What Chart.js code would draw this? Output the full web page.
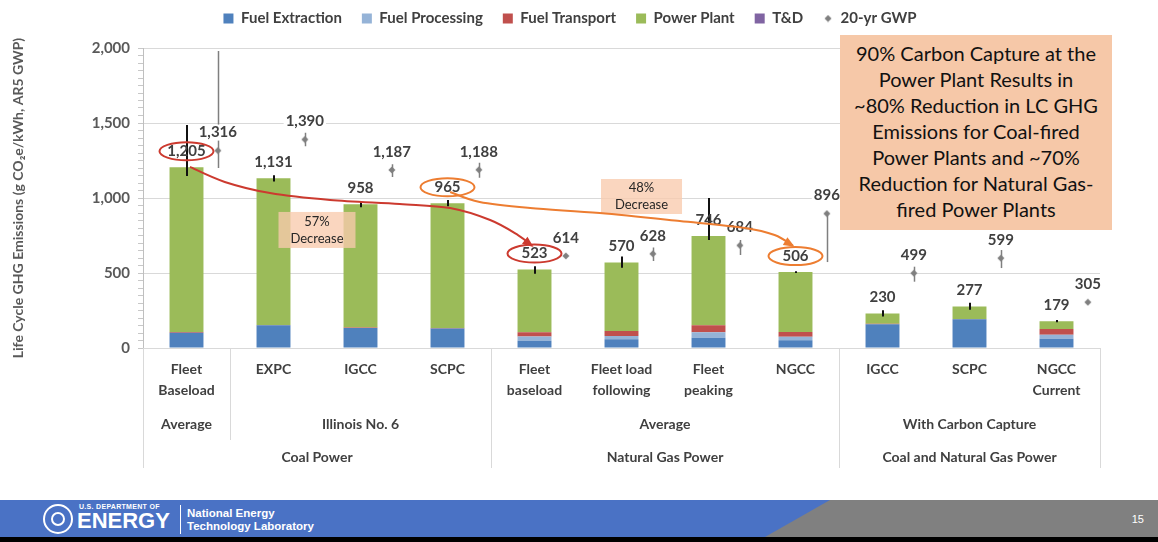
<!DOCTYPE html>
<html>
<head>
<meta charset="utf-8">
<script src="https://cdn.jsdelivr.net/npm/chart.js@4.4.1/dist/chart.umd.min.js"></script>
<style>
  body { margin: 0; width: 1158px; height: 542px; background: #fff; overflow: hidden; position: relative; font-family: Lato, sans-serif; }
  #lcaChart { position: absolute; left: 0; top: 0; }
  .callout { position: absolute; left: 840px; top: 35px; width: 272px; height: 195px; background: #f6c8a8;
             color: #111; font-size: 20px; line-height: 26px; text-align: center; padding-top: 5px; box-sizing: border-box; }
  .footer { position: absolute; left: 0; top: 500px; width: 1158px; height: 37px; background: #4a72c5; }
  .footer .slant { position: absolute; left: 765px; top: 0; width: 393px; height: 37px; background: #808080;
                   clip-path: polygon(65px 0, 100% 0, 100% 100%, 0 100%); }
  .footer .page { position: absolute; right: 14px; top: 13px; color: #fff; font: 11px "Liberation Sans", Arial, sans-serif; }
  .strip { position: absolute; left: 0; top: 537px; width: 1158px; height: 5px; background: #000; }
  .seal { position: absolute; left: 43px; top: 4px; width: 26px; height: 26px; border: 2px solid #fff; border-radius: 50%; }
  .seal::after { content: ""; position: absolute; left: 6px; top: 6px; width: 10px; height: 10px; border: 2px solid #fff; border-radius: 50%; }
  .dept { position: absolute; left: 79px; top: 3px; color: #fff; font: bold 7px "Liberation Sans", Arial, sans-serif; letter-spacing: 0.3px; }
  .energy { position: absolute; left: 77px; top: 9px; color: #fff; font: bold 22px/24px "Liberation Sans", Arial, sans-serif; }
  .sep { position: absolute; left: 180px; top: 5px; width: 1px; height: 29px; background: #fff; }
  .lab { position: absolute; left: 187px; top: 7px; color: #fff; font: bold 11.5px/13px "Liberation Sans", Arial, sans-serif; }
</style>
</head>
<body>
<canvas id="lcaChart" width="1158" height="480"></canvas>

<div class="callout">90% Carbon Capture at the<br>Power Plant Results in<br>~80% Reduction in LC GHG<br>Emissions for Coal-fired<br>Power Plants and ~70%<br>Reduction for Natural Gas-<br>fired Power Plants</div>

<div class="footer">
  <div class="seal"></div>
  <div class="dept">U.S. DEPARTMENT OF</div>
  <div class="energy">ENERGY</div>
  <div class="sep"></div>
  <div class="lab">National Energy<br>Technology Laboratory</div>
  <div class="slant"></div>
  <div class="page">15</div>
</div>
<div class="strip"></div>

<script>
const FONT = 'Lato, sans-serif';
Chart.defaults.font.family = FONT;

const categories = [
  ['Fleet', 'Baseload'], 'EXPC', 'IGCC', 'SCPC',
  ['Fleet', 'baseload'], ['Fleet load', 'following'], ['Fleet', 'peaking'], 'NGCC',
  'IGCC', 'SCPC', ['NGCC', 'Current']
];

// life cycle stages, g CO2e/kWh
const fuelExtraction = [102, 151, 133, 130, 49, 58, 69, 51, 158, 191, 62];
const fuelProcessing = [0, 0, 0, 0, 27, 22, 36, 24, 0, 0, 27];
const fuelTransport  = [5, 3, 3, 3, 29, 33, 47, 31, 3, 3, 38];
const powerPlant     = [1098, 977, 822, 832, 418, 457, 594, 400, 69, 83, 52];
const tAndD          = [0, 0, 0, 0, 0, 0, 0, 0, 0, 0, 0];

// uncertainty range on the 100-yr totals
const totalLow  = [1147, 1110, 938, 945, 495, 535, 720, 500, 210, 255, 172];
const totalHigh = [1487, 1152, 980, 987, 545, 610, 1000, 512, 252, 302, 186];

// 20-yr GWP totals and their ranges
const gwp20     = [1316, 1390, 1187, 1188, 614, 628, 684, 896, 499, 599, 305];
const gwp20Low  = [1200, 1345, 1140, 1135, 614, 580, 620, 573, 442, 533, 305];
const gwp20High = [1980, 1435, 1225, 1235, 614, 670, 720, 896, 542, 653, 305];

// second and third rows of the category axis: [label, first index, last index]
const subGroups = [['Average', 0, 0], ['Illinois No. 6', 1, 3], ['Average', 4, 7], ['With Carbon Capture', 8, 10]];
const mainGroups = [['Coal Power', 0, 3], ['Natural Gas Power', 4, 7], ['Coal and Natural Gas Power', 8, 10]];

const yTicks = [0, 500, 1000, 1500, 2000];
const gwpShift = 0.36;

const totals = fuelExtraction.map((v, i) => v + fuelProcessing[i] + fuelTransport[i] + powerPlant[i] + tAndD[i]);
const fmt = v => v.toLocaleString('en-US');

// small grey diamond used for the GWP points and its legend entry
const diamond = document.createElement('canvas');
diamond.width = 8; diamond.height = 8;
const dctx = diamond.getContext('2d');
dctx.fillStyle = '#7f7f7f';
dctx.beginPath();
dctx.moveTo(4, 0.5); dctx.lineTo(7.5, 4); dctx.lineTo(4, 7.5); dctx.lineTo(0.5, 4);
dctx.closePath(); dctx.fill();

function barSet(label, data, color) {
  return { type: 'bar', label, data, backgroundColor: color, xAxisID: 'x', legendStyle: 'rect',
           stack: 'lca', grouped: false, barPercentage: 0.39, categoryPercentage: 1 };
}

// curved arrows and call-outs, positioned in axis units (category index, value)
const redArrow = [[0.04, 1207], [0.44, 1107], [0.96, 1033], [1.65, 987], [2.45, 960], [3.03, 933], [3.49, 853], [3.81, 753], [3.97, 682]];
const orangeArrow = [[3.03, 1040], [3.37, 973], [3.95, 933], [4.75, 900], [5.67, 847], [6.42, 800], [6.76, 753], [6.97, 682]];
const decreaseBoxes = [
  { at: [1.5, 787], w: 77, h: 36, lines: ['57%', 'Decrease'] },
  { at: [5.23, 1010], w: 81, h: 35, lines: ['48%', 'Decrease'] }
];
const circled = [[0, '#cc3a2f'], [4, '#cc3a2f'], [3, '#ed7d31'], [7, '#ed7d31']];

function curve(c, pts, color) {
  c.save();
  c.strokeStyle = color; c.fillStyle = color; c.lineWidth = 2;
  c.beginPath();
  c.moveTo(pts[0][0], pts[0][1]);
  let lastCp = pts[0];
  for (let i = 0; i < pts.length - 1; i++) {
    const p0 = pts[i - 1] || pts[i], p1 = pts[i], p2 = pts[i + 1], p3 = pts[i + 2] || p2;
    const c1 = [p1[0] + (p2[0] - p0[0]) / 6, p1[1] + (p2[1] - p0[1]) / 6];
    const c2 = [p2[0] - (p3[0] - p1[0]) / 6, p2[1] - (p3[1] - p1[1]) / 6];
    c.bezierCurveTo(c1[0], c1[1], c2[0], c2[1], p2[0], p2[1]);
    lastCp = c2;
  }
  c.stroke();
  const end = pts[pts.length - 1];
  const a = Math.atan2(end[1] - lastCp[1], end[0] - lastCp[0]);
  c.beginPath();
  c.moveTo(end[0] + 2 * Math.cos(a), end[1] + 2 * Math.sin(a));
  c.lineTo(end[0] - 9 * Math.cos(a) + 4.5 * Math.sin(a), end[1] - 9 * Math.sin(a) - 4.5 * Math.cos(a));
  c.lineTo(end[0] - 9 * Math.cos(a) - 4.5 * Math.sin(a), end[1] - 9 * Math.sin(a) + 4.5 * Math.cos(a));
  c.closePath(); c.fill();
  c.restore();
}

const decorations = {
  id: 'decorations',
  afterLayout(chart) {
    // legend row sits a little higher and right of the default slot
    const lg = chart.legend;
    lg.top -= 12; lg.bottom -= 12;
    lg.left += 20; lg.right += 20;
  },
  beforeDatasetsDraw(chart) {
    const c = chart.ctx;
    const gm = chart.getDatasetMeta(5);
    const y = chart.scales.y;
    c.save();
    c.strokeStyle = '#7f7f7f'; c.lineWidth = 1.5;
    gm.data.forEach((pt, i) => {
      if (gwp20High[i] === gwp20Low[i]) return;
      c.beginPath();
      c.moveTo(Math.round(pt.x) + 0.5, y.getPixelForValue(gwp20High[i]));
      c.lineTo(Math.round(pt.x) + 0.5, y.getPixelForValue(gwp20Low[i]));
      c.stroke();
    });
    c.restore();
  },
  afterDatasetsDraw(chart) {
    const c = chart.ctx;
    const x = chart.scales.x, y = chart.scales.y, xg = chart.scales.xg;
    const gm = chart.getDatasetMeta(5);

    // range bars on the stacked totals
    c.save();
    c.strokeStyle = '#111'; c.lineWidth = 2;
    totals.forEach((t, i) => {
      const px = Math.round(x.getPixelForValue(i));
      c.beginPath();
      c.moveTo(px, y.getPixelForValue(totalHigh[i]));
      c.lineTo(px, y.getPixelForValue(totalLow[i]));
      c.stroke();
    });
    c.restore();

    // value labels
    c.save();
    c.font = 'bold 15px ' + FONT;
    c.textAlign = 'center'; c.textBaseline = 'middle';
    totals.forEach((t, i) => {
      c.fillStyle = '#404040';
      c.fillText(fmt(t), x.getPixelForValue(i), y.getPixelForValue(t) - 16);
    });
    gm.data.forEach((pt, i) => {
      const txt = fmt(gwp20[i]);
      const w = c.measureText(txt).width;
      c.fillStyle = '#fff';
      c.fillRect(pt.x - w / 2 - 2, pt.y - 26, w + 4, 16);
      c.fillStyle = '#404040';
      c.fillText(txt, pt.x, pt.y - 18);
    });
    c.restore();

    // shaded decrease boxes
    c.save();
    decreaseBoxes.forEach(b => {
      const cx = xg.getPixelForValue(b.at[0]), cy = y.getPixelForValue(b.at[1]);
      c.fillStyle = 'rgba(248, 203, 173, 0.78)';
      c.fillRect(cx - b.w / 2, cy - b.h / 2, b.w, b.h);
      c.fillStyle = '#262626';
      c.font = '13px ' + FONT;
      c.textAlign = 'center'; c.textBaseline = 'middle';
      c.fillText(b.lines[0], cx, cy - 8.5);
      c.fillText(b.lines[1], cx, cy + 8.5);
    });
    c.restore();

    // circled values and arrows between them
    c.save();
    c.lineWidth = 2;
    circled.forEach(([i, col]) => {
      c.strokeStyle = col;
      c.beginPath();
      c.ellipse(x.getPixelForValue(i), y.getPixelForValue(totals[i]) - 16, 27, 9, 0, 0, Math.PI * 2);
      c.stroke();
    });
    c.restore();
    const toPx = pts => pts.map(([i, v]) => [xg.getPixelForValue(i), y.getPixelForValue(v)]);
    curve(c, toPx(redArrow), '#cc3a2f');
    curve(c, toPx(orangeArrow), '#ed7d31');
  },
  afterDraw(chart) {
    const c = chart.ctx;
    const x = chart.scales.x;
    const step = x.getPixelForValue(1) - x.getPixelForValue(0);
    const edge = i => x.getPixelForValue(i) - step / 2;
    const base = chart.chartArea.bottom;
    c.save();
    c.strokeStyle = '#d9d9d9'; c.lineWidth = 1;
    [[0, 468], [1, 440], [4, 468], [8, 468], [11, 468]].forEach(([i, bottom]) => {
      const px = Math.round(edge(i)) + 0.5;
      c.beginPath(); c.moveTo(px, base); c.lineTo(px, bottom); c.stroke();
    });
    c.font = 'bold 14px ' + FONT;
    c.fillStyle = '#404040';
    c.textAlign = 'center'; c.textBaseline = 'middle';
    subGroups.forEach(([txt, a, b]) => c.fillText(txt, (edge(a) + edge(b + 1)) / 2, 424));
    mainGroups.forEach(([txt, a, b]) => c.fillText(txt, (edge(a) + edge(b + 1)) / 2, 457));
    c.restore();
  }
};

new Chart(document.getElementById('lcaChart').getContext('2d'), {
  type: 'bar',
  data: {
    labels: categories,
    datasets: [
      barSet('Fuel Extraction', fuelExtraction, '#4f81bd'),
      barSet('Fuel Processing', fuelProcessing, '#95b3d7'),
      barSet('Fuel Transport', fuelTransport, '#c0504d'),
      barSet('Power Plant', powerPlant, '#9bbb59'),
      barSet('T&D', tAndD, '#8064a2'),
      {
        type: 'scatter', label: '20-yr GWP', stack: 'gwp', xAxisID: 'xg',
        data: gwp20.map((v, i) => ({ x: i + gwpShift, y: v })),
        pointStyle: diamond, legendStyle: diamond, backgroundColor: '#7f7f7f'
      }
    ]
  },
  options: {
    responsive: false,
    animation: false,
    layout: { padding: { top: 3, right: 58, left: 0, bottom: 0 } },
    plugins: {
      tooltip: { enabled: false },
      legend: {
        position: 'top',
        labels: {
          usePointStyle: true, boxWidth: 10, boxHeight: 10, padding: 20,
          color: '#404040', font: { size: 15, weight: 'bold' },
          generateLabels: chart => chart.data.datasets.map((ds, i) => ({
            text: ds.label, fillStyle: ds.backgroundColor, strokeStyle: ds.backgroundColor,
            lineWidth: 0, pointStyle: ds.legendStyle, hidden: false, datasetIndex: i, fontColor: '#404040'
          }))
        }
      }
    },
    scales: {
      x: {
        type: 'category', stacked: true, offset: true,
        grid: { display: false, drawTicks: false },
        border: { color: '#d9d9d9' },
        ticks: { color: '#404040', font: { size: 14, weight: 'bold', lineHeight: 1.5 }, padding: 11, maxRotation: 0, autoSkip: false },
        afterFit: s => { s.height = 132; }
      },
      xg: { type: 'linear', display: false, offset: false, min: -0.5, max: 10.5 },
      y: {
        stacked: true, min: 0, max: 2000,
        ticks: {
          stepSize: 50, autoSkip: false, padding: 8, color: '#595959',
          font: { size: 15, weight: 'bold' },
          callback: v => yTicks.includes(v) ? fmt(v) : ''
        },
        grid: {
          color: c => c.tick && yTicks.includes(c.tick.value) ? '#d9d9d9' : 'rgba(0,0,0,0)',
          tickColor: '#c8c8c8', tickLength: 5
        },
        border: { color: '#bfbfbf' },
        title: {
          display: true, text: 'Life Cycle GHG Emissions (g CO\u2082e/kWh, AR5 GWP)',
          color: '#595959', font: { size: 14, weight: 'bold' }, padding: { top: 10, bottom: 0 }
        },
        afterFit: s => { s.width = 143; }
      }
    }
  },
  plugins: [decorations]
});
</script>
</body>
</html>
